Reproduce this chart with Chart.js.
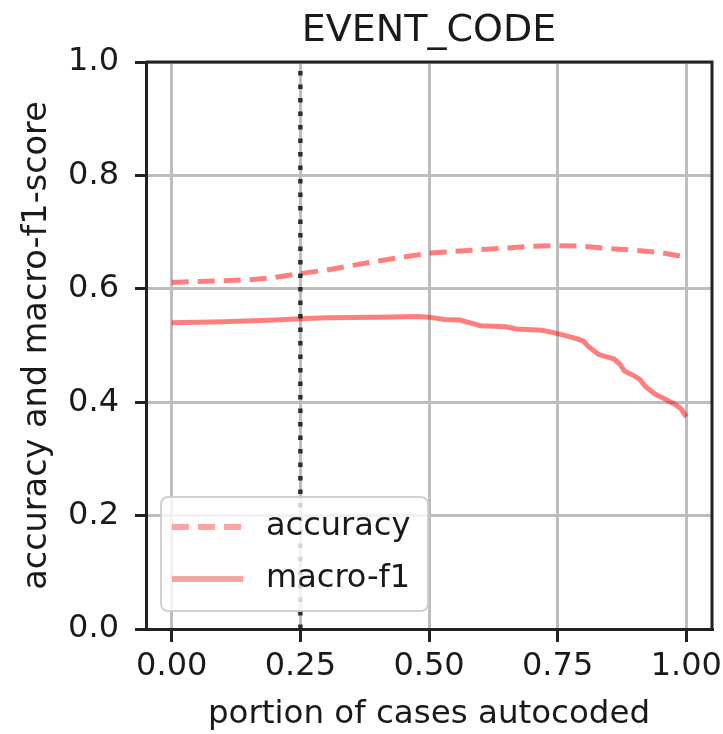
<!DOCTYPE html>
<html>
<head>
<meta charset="utf-8">
<script src="https://cdn.jsdelivr.net/npm/chart.js@4/dist/chart.umd.min.js"></script>
<style>
  html, body { margin: 0; padding: 0; background: #fff; }
  #wrap { width: 723px; height: 734px; }
</style>
</head>
<body>
<div id="wrap"><canvas id="c" width="723" height="734"></canvas></div>
<script>
// ---- data ----
const titleText = 'EVENT_CODE';
const xLabel = 'portion of cases autocoded';
const yLabel = 'accuracy and macro-f1-score';
const seriesNames = ['accuracy', 'macro-f1'];
const xTicks = [0.00, 0.25, 0.50, 0.75, 1.00];
const yTicks = [0.0, 0.2, 0.4, 0.6, 0.8, 1.0];
const markerX = 0.25;

const accX = [0.00, 0.05, 0.10, 0.15, 0.20, 0.25, 0.30, 0.35, 0.40, 0.45, 0.50,
              0.55, 0.60, 0.65, 0.70, 0.75, 0.80, 0.85, 0.90, 0.95, 1.00];
const accY = [0.611, 0.613, 0.614, 0.616, 0.620, 0.627, 0.633, 0.641, 0.649, 0.656, 0.663,
              0.666, 0.669, 0.672, 0.675, 0.676, 0.675, 0.671, 0.668, 0.664, 0.656];

const f1X = [0.00, 0.10, 0.20, 0.25, 0.30, 0.40, 0.48, 0.50, 0.53, 0.56, 0.58, 0.60,
             0.65, 0.67, 0.72, 0.75, 0.78, 0.80, 0.81, 0.83, 0.86, 0.87, 0.88, 0.90,
             0.91, 0.92, 0.94, 0.96, 0.98, 0.99, 1.00];
const f1Y = [0.540, 0.542, 0.545, 0.547, 0.549, 0.550, 0.551, 0.550, 0.546, 0.545, 0.540, 0.535,
             0.533, 0.529, 0.527, 0.521, 0.514, 0.508, 0.498, 0.484, 0.476, 0.468, 0.455, 0.446,
             0.440, 0.428, 0.414, 0.405, 0.395, 0.388, 0.374];

// ---- helpers ----
const FONT = 'DejaVu Sans';
const TEXT = '#1a1a1a';
const LINE_RED = 'rgba(255,0,0,0.5)';
const LEGEND_RED = 'rgba(255,0,0,0.36)';
const toPts = (xs, ys) => xs.map((x, i) => ({ x: x, y: ys[i] }));

const framePlugin = {
  id: 'frame',
  afterDatasetsDraw(chart) {
    const { ctx, chartArea: a } = chart;
    ctx.save();
    ctx.strokeStyle = '#222';
    ctx.lineWidth = 3;
    ctx.beginPath();
    ctx.moveTo(a.left, a.top);
    ctx.lineTo(a.right, a.top);
    ctx.lineTo(a.right, a.bottom);
    ctx.stroke();
    ctx.restore();
  }
};

const legendPlugin = {
  id: 'innerLegend',
  afterDraw(chart) {
    const { ctx, chartArea: a } = chart;
    const x0 = a.left + 15, x1 = a.left + 282;
    const y1 = a.bottom - 18, y0 = y1 - 114;
    const r = 7;
    ctx.save();
    ctx.beginPath();
    ctx.moveTo(x0 + r, y0);
    ctx.lineTo(x1 - r, y0);
    ctx.arcTo(x1, y0, x1, y0 + r, r);
    ctx.lineTo(x1, y1 - r);
    ctx.arcTo(x1, y1, x1 - r, y1, r);
    ctx.lineTo(x0 + r, y1);
    ctx.arcTo(x0, y1, x0, y1 - r, r);
    ctx.lineTo(x0, y0 + r);
    ctx.arcTo(x0, y0, x0 + r, y0, r);
    ctx.closePath();
    ctx.fillStyle = 'rgba(255,255,255,0.8)';
    ctx.fill();
    ctx.strokeStyle = 'rgba(204,204,204,0.9)';
    ctx.lineWidth = 2;
    ctx.stroke();

    const items = chart.data.datasets.filter(d => seriesNames.includes(d.label));
    const rows = [y0 + 30, y0 + 82];
    items.forEach((d, i) => {
      const yy = rows[i];
      ctx.beginPath();
      ctx.strokeStyle = LEGEND_RED;
      ctx.lineWidth = 6;
      ctx.setLineDash(d.borderDash || []);
      ctx.moveTo(x0 + 11, yy);
      ctx.lineTo(x0 + 82, yy);
      ctx.stroke();
      ctx.setLineDash([]);
      ctx.fillStyle = TEXT;
      ctx.font = '32px "' + FONT + '"';
      ctx.textAlign = 'left';
      ctx.textBaseline = 'middle';
      ctx.fillText(d.label, x0 + 105, yy);
    });
    ctx.restore();
  }
};

new Chart(document.getElementById('c'), {
  type: 'line',
  data: {
    datasets: [
      {
        label: 'threshold',
        data: [{ x: markerX, y: yTicks[0] }, { x: markerX, y: yTicks[yTicks.length - 1] }],
        borderColor: 'rgba(20,20,20,0.85)',
        borderWidth: 4.5,
        borderDash: [4.5, 9],
        pointRadius: 0,
        order: 0
      },
      {
        label: seriesNames[0],
        data: toPts(accX, accY),
        borderColor: LINE_RED,
        borderWidth: 5,
        borderDash: [17, 9],
        pointRadius: 0,
        tension: 0,
        order: 1
      },
      {
        label: seriesNames[1],
        data: toPts(f1X, f1Y),
        borderColor: LINE_RED,
        borderWidth: 5,
        pointRadius: 0,
        tension: 0,
        order: 1
      }
    ]
  },
  options: {
    responsive: false,
    animation: false,
    devicePixelRatio: 1,
    layout: { padding: { left: 0, right: 0, top: 0, bottom: 0 } },
    plugins: {
      legend: { display: false },
      tooltip: { enabled: false },
      title: {
        display: true,
        text: titleText,
        fullSize: false,
        color: TEXT,
        font: { family: FONT, size: 38, weight: 'normal', lineHeight: 1.2 },
        padding: { top: 8, bottom: 8.4 }
      }
    },
    scales: {
      x: {
        type: 'linear',
        min: -0.05,
        max: 1.05,
        afterBuildTicks: s => { s.ticks = xTicks.map(v => ({ value: v })); },
        afterFit: s => { s.height = 105; s.paddingLeft = 0; s.paddingRight = 11; },
        ticks: {
          color: TEXT,
          font: { family: FONT, size: 32, lineHeight: 1.2 },
          padding: 5,
          maxRotation: 0,
          autoSkip: false,
          callback: v => Number(v).toFixed(2)
        },
        grid: { color: '#bdbdbd', lineWidth: 3, tickLength: 13, tickColor: '#222', tickWidth: 3 },
        border: { display: true, color: '#222', width: 3 },
        title: {
          display: true,
          text: xLabel,
          color: TEXT,
          font: { family: FONT, size: 32.5, lineHeight: 1.2 },
          padding: { top: 0, bottom: 0 }
        }
      },
      y: {
        type: 'linear',
        min: 0,
        max: 1,
        afterBuildTicks: s => { s.ticks = yTicks.map(v => ({ value: v })); },
        afterFit: s => { s.width = 146; s.paddingTop = 0; s.paddingBottom = 0; },
        ticks: {
          color: TEXT,
          font: { family: FONT, size: 32, lineHeight: 1.2 },
          padding: 16,
          autoSkip: false,
          callback: v => Number(v).toFixed(1)
        },
        grid: { color: '#bdbdbd', lineWidth: 3, tickLength: 11, tickColor: '#222', tickWidth: 3 },
        border: { display: true, color: '#222', width: 3 },
        title: {
          display: true,
          text: yLabel,
          color: TEXT,
          font: { family: FONT, size: 33.5, lineHeight: 1.2 },
          padding: { top: 17, bottom: 0 }
        }
      }
    }
  },
  plugins: [framePlugin, legendPlugin]
});
</script>
</body>
</html>
